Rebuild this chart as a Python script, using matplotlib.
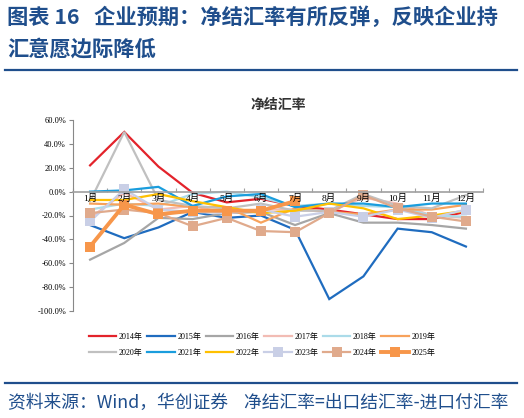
import matplotlib
matplotlib.use("Agg")
import matplotlib.pyplot as plt
from matplotlib.lines import Line2D
from matplotlib.ticker import FuncFormatter

plt.rcParams['font.family'] = ['Liberation Serif', 'Noto Sans CJK SC']

months = ['1月', '2月', '3月', '4月', '5月', '6月', '7月', '8月', '9月', '10月', '11月', '12月']

# net FX settlement rate, %
y2014 = [22, 50, 21, -1, -9, -6, -12, -15, -19, -23, -23, -17]
y2015 = [-28, -39, -30, -17, -22, -20, -32, -90, -71, -31, -34, -46]
y2016 = [-57, -43, -22, -23, -18, -17, -28, -18, -26, -26, -28, -31]
y2017 = [-22, -1, -15, -12, -18, -15, -15, -17, -5, -10, -20, -22]
y2018 = [-15, -10, -12, -2, 0, -5, -12, -10, -12, -13, -20, -21]
y2019 = [-10, -11, -10, -13, -13, -26, -14, -17, -19, -15, -15, -11]
y2020 = [-8, 50, -7, -12, -14, -10, -16, -16, -2, -12, -14, -3]
y2021 = [0, 1, 4, -12, -4, -2, -13, -10, -10, -13, -10, -10]
y2022 = [-7, -7, -2, -8, -13, -18, -16, -10, -14, -23, -20, -16]
y2023 = [-25, 2, -15, -17, -18, -15, -21, -17, -21, -15, -22, -15]
y2024 = [-18, -15, -18, -29, -22, -33, -34, -18, -3, -14, -21, -25]
y2025 = [-46, -11, -19, -16, -16, -16, -8]

series = [
    ('2014年', y2014, '#e3232b', 1.6, None),
    ('2015年', y2015, '#1f6cbf', 1.6, None),
    ('2016年', y2016, '#a6a6a6', 1.6, None),
    ('2017年', y2017, '#f2bcb4', 1.6, None),
    ('2018年', y2018, '#abdbe9', 1.6, None),
    ('2019年', y2019, '#f7a25c', 1.6, None),
    ('2020年', y2020, '#c0c0c0', 1.6, None),
    ('2021年', y2021, '#1a9ddd', 1.6, None),
    ('2022年', y2022, '#ffc000', 1.6, None),
    ('2023年', y2023, '#c9cfe6', 1.6, 's'),
    ('2024年', y2024, '#e0aa8c', 1.6, 's'),
    ('2025年', y2025, '#f7964a', 2.8, 's'),
]

fig = plt.figure(figsize=(5.24, 4.18), dpi=100)
ax = fig.add_axes([73 / 524, 1 - 311 / 418, 410 / 524, 191 / 418])

handles = []
for name, vals, col, lw, mk in series:
    x = list(range(1, len(vals) + 1))
    h, = ax.plot(x, vals, color=col, lw=lw, marker=mk, markersize=7,
                 markeredgewidth=0, label=name, solid_joinstyle='miter')
    handles.append(h)

ax.set_xlim(0.5, 12.5)
ax.set_ylim(-100, 60)
ax.set_yticks(range(-100, 61, 20))
ax.yaxis.set_major_formatter(FuncFormatter(lambda v, p: '%.1f%%' % v))
ax.tick_params(axis='y', labelsize=6, length=3, width=0.8, color='#888888', pad=2)

for s in ['top', 'right']:
    ax.spines[s].set_visible(False)
ax.spines['left'].set_color('#888888')
ax.spines['bottom'].set_position(('data', 0))
ax.spines['bottom'].set_color('#a0a0a0')
ax.spines['bottom'].set_linewidth(1.2)

ax.set_xticks([i + 0.5 for i in range(0, 13)])
ax.set_xticklabels([])
ax.tick_params(axis='x', direction='in', length=3, color='#a0a0a0', width=0.8)
for i, m in enumerate(months):
    ax.text(i + 1, -1.5, m, ha='center', va='top', fontsize=6.8, zorder=10)

ax.set_title('净结汇率', fontsize=10, fontweight='bold', color='#333333', pad=8,
             family=['Noto Sans CJK SC'])

# legend fills by column, so interleave to get two rows of six
order = []
for j in range(6):
    order += [j, j + 6]
fig.legend([handles[k] for k in order], [series[k][0] for k in order],
           loc='center', bbox_to_anchor=(0.5, 1 - 345 / 418), ncol=6, fontsize=5.8,
           frameon=False, handlelength=3.4, columnspacing=0.6, handletextpad=0.3,
           labelspacing=1.0)

blue = '#1f4e8c'
fig.text(7 / 524, 1 - 17 / 418, '图表 16   企业预期：净结汇率有所反弹，反映企业持',
         fontsize=15.3, fontweight='bold', color=blue, va='center',
         family=['Noto Sans CJK SC'])
fig.text(7 / 524, 1 - 49 / 418, '汇意愿边际降低',
         fontsize=15.3, fontweight='bold', color=blue, va='center',
         family=['Noto Sans CJK SC'])
fig.add_artist(Line2D([5 / 524, 517 / 524], [1 - 70 / 418] * 2, color=blue, lw=1.6))
fig.add_artist(Line2D([5 / 524, 517 / 524], [1 - 383 / 418] * 2, color=blue, lw=1.6))
fig.text(8 / 524, 1 - 403 / 418, '资料来源：Wind，华创证券    净结汇率=出口结汇率-进口付汇率',
         fontsize=12.8, style='italic', color=blue, va='center',
         family=['Noto Sans CJK SC'])

fig.savefig('out.png', dpi=100)
